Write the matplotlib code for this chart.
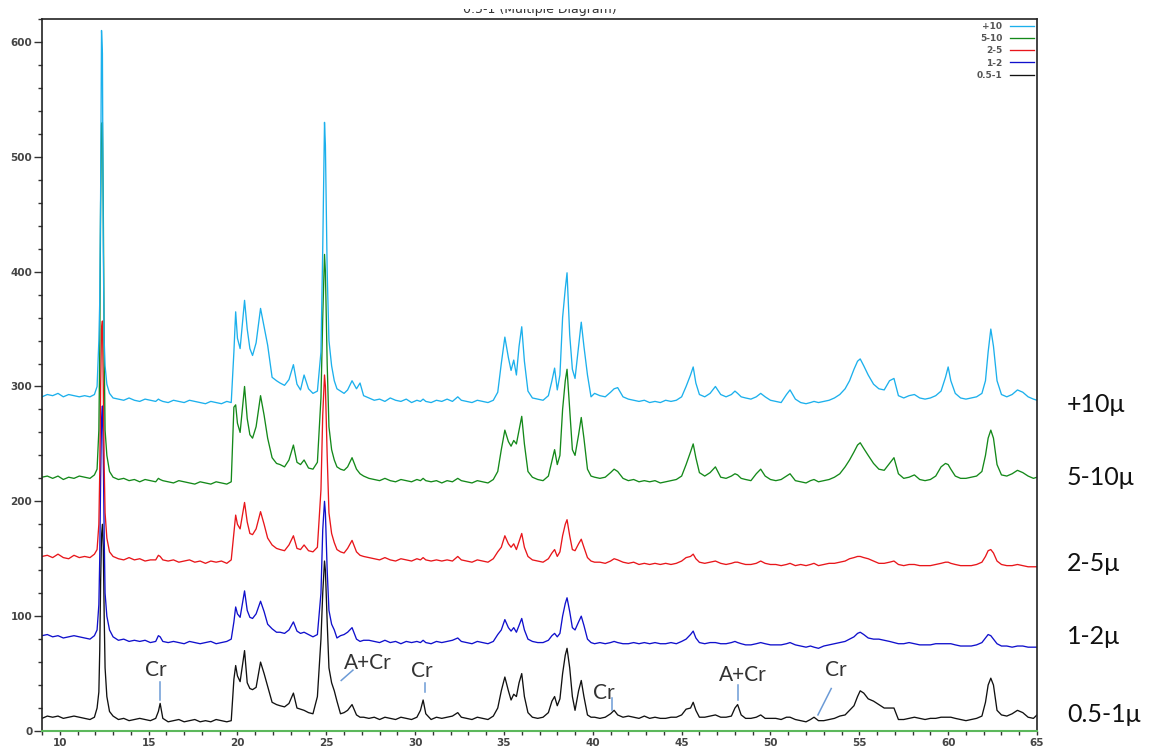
import matplotlib
matplotlib.use("Agg")
import matplotlib.pyplot as plt
from matplotlib.ticker import MultipleLocator
from matplotlib.transforms import Bbox, TransformedBbox

# 2-theta sampling points shared by all patterns
two_theta = (
    [9.0, 9.3, 9.6, 9.9, 10.2, 10.5, 10.8, 11.1, 11.4, 11.7, 11.95]
    + [12.1, 12.2, 12.25, 12.3, 12.35, 12.4, 12.45, 12.5, 12.55, 12.65, 12.8, 13.0]
    + [13.3, 13.6, 13.9, 14.2, 14.5, 14.8, 15.1, 15.4, 15.55, 15.65, 15.8, 16.1,
       16.4, 16.7, 17.0, 17.3, 17.6, 17.9, 18.2, 18.5, 18.8, 19.1, 19.4, 19.65]
    + [19.8, 19.9, 20.0, 20.15, 20.4, 20.55, 20.7, 20.85, 21.05, 21.3, 21.5, 21.7,
       21.95, 22.2, 22.4, 22.65, 22.9, 23.15, 23.35, 23.55]
    + [23.75, 24.0, 24.25, 24.5, 24.7, 24.8, 24.9, 24.95, 25.05, 25.15, 25.3, 25.45,
       25.6, 25.8, 26.0, 26.2, 26.45, 26.7, 26.9, 27.1]
    + [27.4, 27.7, 28.0, 28.3, 28.6, 28.9, 29.2, 29.5, 29.8, 30.1, 30.3, 30.45, 30.6,
       30.9, 31.2, 31.5, 31.8, 32.1, 32.4, 32.6, 32.9, 33.2, 33.5, 33.8, 34.1, 34.4, 34.65]
    + [34.85, 35.05, 35.25, 35.4, 35.55, 35.7, 35.85, 36.0, 36.15, 36.35, 36.6, 36.9,
       37.2, 37.5, 37.7]
    + [37.85, 38.0, 38.15, 38.3, 38.45, 38.55, 38.7, 38.85, 39.0, 39.2, 39.35, 39.5,
       39.7, 39.9, 40.1]
    + [40.4, 40.7, 41.0, 41.2, 41.4, 41.7, 42.0, 42.3, 42.6, 42.9, 43.2, 43.5, 43.8,
       44.1, 44.4, 44.7, 45.0, 45.25]
    + [45.5, 45.65, 45.8, 46.0, 46.3, 46.6, 46.9, 47.2, 47.5, 47.8, 48.0, 48.15, 48.35,
       48.6, 48.9, 49.2, 49.45, 49.7, 50.0]
    + [50.3, 50.6, 50.9, 51.1, 51.4, 51.7, 52.0, 52.25, 52.45, 52.7, 53.0, 53.3, 53.6,
       53.9, 54.2, 54.45, 54.7, 54.9, 55.05]
    + [55.25, 55.5, 55.8, 56.1, 56.4, 56.7, 56.95, 57.2, 57.5, 57.8, 58.1, 58.4, 58.7,
       59.0, 59.3, 59.6, 59.85, 60.0, 60.15]
    + [60.4, 60.7, 61.0, 61.3, 61.6, 61.9, 62.1, 62.25, 62.4, 62.55, 62.75, 63.0, 63.3,
       63.6, 63.9, 64.2, 64.5, 64.8, 65.0]
)

# +10 fraction
counts_10 = (
    [291, 293, 292, 294, 291, 293, 292, 291, 292, 291, 293]
    + [300, 340, 374, 470, 610, 590, 420, 340, 318, 302, 294, 290]
    + [289, 288, 290, 288, 287, 289, 288, 287, 289, 288, 287, 286,
       288, 287, 286, 288, 287, 286, 285, 287, 286, 285, 287, 286]
    + [330, 365, 342, 333, 375, 350, 333, 327, 338, 368, 352, 336,
       308, 305, 303, 301, 306, 319, 302, 297]
    + [310, 298, 294, 296, 330, 420, 530, 510, 400, 340, 318, 305,
       298, 296, 294, 297, 305, 298, 303, 292]
    + [290, 288, 289, 287, 290, 288, 287, 289, 286, 288, 287, 289, 287,
       286, 288, 287, 289, 287, 291, 288, 287, 286, 288, 287, 286, 288, 295]
    + [320, 343, 325, 314, 323, 310, 335, 352, 322, 296, 290, 289, 288, 292, 305]
    + [316, 297, 310, 360, 385, 399, 345, 315, 307, 335, 356, 335, 310, 291, 294]
    + [292, 291, 295, 298, 299, 291, 289, 288, 287, 288, 286, 287, 286,
       288, 287, 288, 291, 300]
    + [310, 317, 303, 293, 291, 294, 300, 293, 291, 293, 296, 294, 291,
       290, 289, 291, 294, 291, 288]
    + [287, 286, 293, 297, 289, 286, 285, 286, 287, 286, 287, 288, 290,
       293, 298, 305, 315, 322, 324]
    + [318, 310, 302, 298, 297, 305, 307, 292, 290, 292, 293, 290, 289,
       290, 292, 296, 308, 317, 305]
    + [294, 290, 289, 290, 291, 294, 305, 330, 350, 335, 305, 293, 291,
       293, 297, 295, 291, 289, 288]
)

# 5-10 fraction
counts_5_10 = (
    [221, 222, 220, 222, 219, 221, 220, 222, 221, 220, 223]
    + [228, 262, 330, 460, 528, 530, 455, 330, 262, 240, 226, 221]
    + [219, 220, 218, 219, 217, 219, 218, 217, 220, 219, 218, 217,
       216, 218, 217, 216, 215, 217, 216, 215, 217, 216, 215, 217]
    + [282, 284, 268, 260, 300, 272, 258, 255, 265, 292, 275, 255,
       238, 233, 232, 230, 236, 249, 234, 232]
    + [236, 229, 228, 234, 290, 360, 415, 400, 320, 265, 245, 236,
       230, 228, 227, 230, 238, 228, 224, 222]
    + [220, 219, 218, 220, 218, 217, 219, 218, 217, 219, 218, 220, 218,
       217, 218, 216, 218, 217, 220, 218, 217, 216, 218, 217, 216, 219, 226]
    + [245, 262, 252, 248, 253, 250, 262, 274, 250, 226, 221, 219, 218, 222, 235]
    + [245, 232, 240, 280, 305, 315, 280, 245, 240, 258, 273, 255, 228, 222, 221]
    + [220, 221, 225, 228, 226, 220, 218, 219, 217, 218, 217, 218, 216,
       217, 218, 219, 222, 232]
    + [243, 250, 238, 225, 222, 225, 230, 221, 220, 222, 224, 223, 220,
       219, 218, 224, 228, 222, 219]
    + [218, 219, 222, 224, 218, 217, 216, 218, 219, 217, 218, 219, 221,
       224, 230, 236, 243, 249, 251]
    + [246, 240, 233, 228, 227, 233, 238, 224, 220, 221, 223, 219, 218,
       219, 222, 230, 233, 232, 228]
    + [222, 220, 220, 221, 222, 226, 240, 255, 262, 255, 232, 223, 222,
       224, 227, 225, 222, 220, 221]
)

# 2-5 fraction
counts_2_5 = (
    [152, 153, 151, 154, 151, 150, 153, 151, 152, 151, 154]
    + [158, 180, 225, 300, 350, 357, 300, 230, 190, 168, 156, 152]
    + [150, 149, 151, 149, 150, 148, 149, 149, 153, 152, 149, 148,
       149, 147, 148, 149, 147, 148, 146, 148, 147, 148, 146, 149]
    + [172, 188, 180, 176, 199, 182, 172, 171, 176, 191, 180, 168,
       162, 159, 158, 157, 162, 170, 159, 158]
    + [162, 157, 156, 160, 210, 275, 310, 300, 240, 190, 172, 164,
       158, 156, 155, 159, 166, 156, 153, 152]
    + [151, 150, 149, 151, 149, 148, 150, 149, 148, 150, 149, 151, 149,
       148, 149, 148, 149, 148, 152, 149, 148, 147, 149, 148, 147, 150, 156]
    + [160, 170, 163, 160, 163, 158, 165, 172, 160, 152, 149, 148, 147, 150, 155]
    + [158, 152, 156, 170, 180, 184, 170, 158, 157, 163, 167, 160, 151, 148, 147]
    + [147, 146, 148, 150, 149, 147, 146, 147, 145, 146, 145, 146, 145,
       146, 145, 146, 148, 151]
    + [152, 154, 150, 147, 146, 147, 148, 146, 145, 146, 147, 147, 146,
       145, 145, 146, 148, 146, 145]
    + [145, 144, 145, 146, 144, 145, 144, 145, 146, 144, 145, 146, 146,
       147, 148, 150, 151, 152, 152]
    + [151, 150, 148, 146, 146, 147, 148, 145, 144, 145, 145, 144, 144,
       144, 145, 146, 147, 147, 146]
    + [145, 144, 144, 144, 145, 147, 152, 157, 158, 155, 148, 145, 144,
       144, 145, 144, 143, 143, 143]
)

# 1-2 fraction
counts_1_2 = (
    [83, 84, 82, 83, 81, 82, 83, 82, 81, 80, 83]
    + [88, 110, 150, 220, 270, 283, 240, 170, 120, 100, 88, 82]
    + [79, 80, 78, 79, 78, 79, 77, 78, 83, 82, 78, 77,
       78, 77, 76, 78, 77, 76, 77, 78, 76, 77, 78, 80]
    + [95, 108, 102, 99, 122, 105, 99, 98, 102, 113, 104, 93,
       89, 86, 86, 85, 88, 95, 87, 85]
    + [86, 84, 82, 84, 120, 175, 200, 190, 140, 105, 93, 88,
       81, 83, 84, 86, 90, 80, 78, 79]
    + [79, 78, 77, 79, 77, 78, 76, 78, 77, 78, 77, 79, 77,
       76, 78, 77, 78, 79, 81, 78, 77, 76, 78, 77, 76, 78, 84]
    + [88, 97, 90, 87, 90, 86, 92, 98, 88, 80, 78, 77, 77, 79, 83]
    + [85, 82, 85, 100, 111, 116, 104, 90, 88, 95, 100, 92, 80, 77, 76]
    + [77, 76, 77, 78, 77, 76, 76, 77, 76, 77, 76, 77, 76,
       76, 77, 76, 78, 80]
    + [84, 87, 81, 77, 76, 77, 77, 76, 76, 77, 78, 77, 76,
       75, 75, 76, 77, 76, 75]
    + [75, 75, 76, 77, 75, 74, 73, 74, 73, 72, 74, 75, 76,
       77, 78, 80, 82, 85, 86]
    + [84, 81, 80, 80, 79, 78, 77, 76, 76, 77, 76, 75, 75,
       75, 76, 76, 76, 76, 76]
    + [75, 74, 74, 74, 75, 77, 81, 84, 83, 80, 76, 74, 74,
       73, 74, 74, 73, 73, 73]
)

# 0.5-1 fraction
counts_05_1 = (
    [11, 13, 12, 13, 11, 12, 13, 12, 11, 10, 12]
    + [20, 34, 70, 130, 170, 180, 160, 100, 55, 30, 17, 13]
    + [10, 11, 9, 10, 11, 10, 9, 11, 17, 24, 11, 8,
       9, 10, 8, 9, 10, 8, 9, 8, 10, 9, 8, 9]
    + [45, 57, 48, 43, 70, 42, 37, 36, 38, 60, 50, 39,
       25, 23, 22, 21, 24, 33, 20, 19]
    + [18, 16, 15, 30, 80, 120, 148, 140, 95, 55, 42, 35,
       26, 15, 16, 18, 23, 14, 12, 12]
    + [11, 12, 10, 12, 11, 10, 12, 11, 10, 12, 18, 27, 15,
       10, 12, 11, 12, 13, 16, 12, 11, 10, 12, 11, 10, 13, 20]
    + [35, 47, 35, 27, 32, 30, 42, 50, 30, 16, 12, 11, 12, 16, 26]
    + [30, 22, 28, 50, 66, 72, 55, 30, 18, 35, 44, 30, 14, 12, 12]
    + [11, 12, 15, 18, 14, 12, 13, 12, 11, 13, 11, 12, 11,
       11, 12, 12, 14, 19]
    + [20, 25, 18, 12, 12, 13, 14, 12, 12, 13, 20, 23, 14,
       11, 11, 12, 14, 11, 11]
    + [11, 10, 12, 12, 10, 9, 8, 10, 12, 9, 9, 10, 11,
       13, 14, 18, 22, 30, 35]
    + [33, 28, 26, 23, 20, 20, 20, 10, 10, 11, 12, 11, 10,
       11, 11, 12, 12, 12, 12]
    + [11, 10, 9, 10, 11, 13, 25, 40, 46, 40, 18, 14, 13,
       15, 18, 16, 12, 11, 14]
)

legend_labels = ["+10", "5-10", "2-5", "1-2", "0.5-1"]
side_labels = ["+10\u03bc", "5-10\u03bc", "2-5\u03bc", "1-2\u03bc", "0.5-1\u03bc"]
side_label_y = [284, 221, 146, 82, 14]
colors = ["#1cb0ec", "#14891a", "#e8161b", "#1010cc", "#111111"]
series = [counts_10, counts_5_10, counts_2_5, counts_1_2, counts_05_1]

# phase marks: text, text position, line start, line end
phase_marks = [
    ("Cr", (15.42, 53), (15.63, 43), (15.63, 27)),
    ("A+Cr", (27.35, 59), (26.5, 53), (25.84, 44)),
    ("Cr", (30.36, 52), (30.53, 42), (30.53, 34)),
    ("Cr", (40.62, 33), (41.09, 29), (41.09, 18)),
    ("A+Cr", (48.44, 49), (48.15, 40), (48.15, 27)),
    ("Cr", (53.66, 53), (53.42, 37), (52.67, 14)),
]

fig = plt.figure(figsize=(11.53, 7.53), dpi=100)
ax = fig.add_axes([42 / 1153, 22 / 753, 995 / 1153, 712 / 753])

handles = []
for lab, col, y in zip(legend_labels[::-1], colors[::-1], series[::-1]):
    ln, = ax.plot(two_theta, y, color=col, lw=0.95, label=lab)
    handles.append(ln)
handles = handles[::-1]

ax.set_xlim(9, 65)
ax.set_ylim(0, 620)
ax.xaxis.set_major_locator(MultipleLocator(5))
ax.xaxis.set_minor_locator(MultipleLocator(1))
ax.yaxis.set_major_locator(MultipleLocator(100))
ax.yaxis.set_minor_locator(MultipleLocator(20))
ax.set_xticks(range(10, 66, 5))
ax.tick_params(axis="y", which="major", direction="out", length=5.5, width=1,
               pad=1.5, labelsize=7.5, labelcolor="#444", color="#333")
ax.tick_params(axis="y", which="minor", direction="out", length=3, width=1, color="#333")
ax.tick_params(axis="x", which="both", direction="out", length=3, width=1,
               pad=2, labelsize=7.5, labelcolor="#444", color="#333")
for lab in ax.get_xticklabels() + ax.get_yticklabels():
    lab.set_fontweight("bold")

for side in ["top", "left", "right"]:
    ax.spines[side].set_color("#222")
    ax.spines[side].set_linewidth(1.2)
ax.spines["bottom"].set_color("#5cb85c")
ax.spines["bottom"].set_linewidth(1.5)

leg = ax.legend(handles=handles, loc="upper right", markerfirst=False, frameon=False,
                prop={"size": 6.5, "weight": "bold"}, handlelength=2.6, handletextpad=0.9,
                labelspacing=0.35, borderaxespad=0.0, borderpad=0.35)
for t in leg.get_texts():
    t.set_color("#555")
    t.set_ha("right")

for txt, pos, p0, p1 in phase_marks:
    ax.plot([p0[0], p1[0]], [p0[1], p1[1]], color="#6c9bd6", lw=1.1)
    ax.text(pos[0], pos[1], txt, ha="center", va="center", fontsize=15,
            family="Lato", color="#333")

for txt, yv in zip(side_labels, side_label_y):
    ax.text(1.030, yv, txt, transform=ax.get_yaxis_transform(), ha="left",
            va="center", fontsize=18, family="Lato", color="#111", clip_on=False)

# diagram caption, partly cut by the top edge
cap = fig.text(540 / 1153, 1 - 13 / 753, "0.5-1 (Multiple Diagram)", ha="center",
               va="baseline", fontsize=9, color="#333")
cap.set_clip_on(True)
cap.set_clip_box(TransformedBbox(Bbox([[0, 0], [1, 1 - 9 / 753]]), fig.transFigure))

fig.savefig("out.png", dpi=100, facecolor="white")
